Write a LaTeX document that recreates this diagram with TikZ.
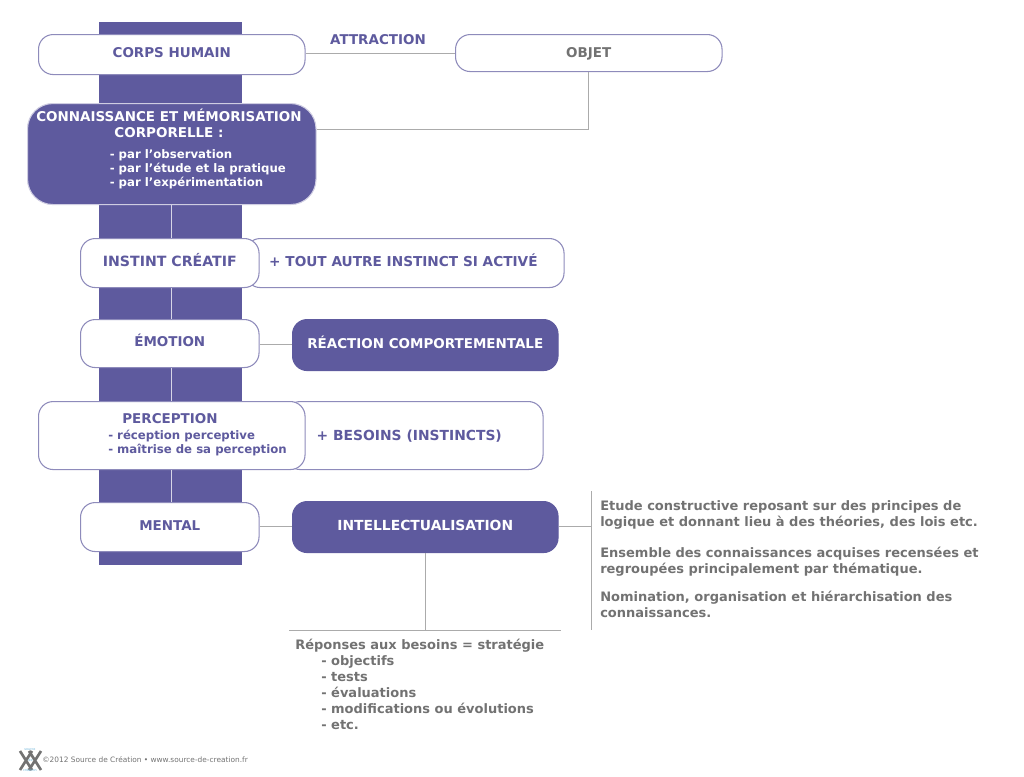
\documentclass[tikz,border=0pt]{standalone}
\usepackage{fontspec}
\setmainfont{DejaVu Sans}
\usetikzlibrary{calc}
\definecolor{violetfonce}{HTML}{5E5A9E}
\definecolor{violetclair}{HTML}{A9A6D0}
\definecolor{gristexte}{HTML}{727272}
\definecolor{grisligne}{HTML}{ABABAB}
\definecolor{bleulogo}{HTML}{6FB4D8}
\tikzset{
  grand/.style={font=\bfseries\fontsize{10.1}{12}\selectfont},
  large/.style={font=\bfseries\fontsize{10.4}{12}\selectfont},
  petit/.style={font=\bfseries\fontsize{8.8}{10.5}\selectfont,align=left,anchor=north west,inner sep=0pt},
  boite/.style={draw=violetfonce!70,line width=0.8pt,fill=white,rounded corners=11pt,text=violetfonce,grand,align=center,inner sep=0pt,anchor=north west,text height=7.3pt,text depth=2pt},
  pleine/.style={boite,draw=violetfonce,fill=violetfonce,text=white},
  ligne/.style={draw=grisligne,line width=0.6pt},
  blanche/.style={draw=white!75!violetfonce,line width=0.7pt},
  gris/.style={text=gristexte,font=\bfseries\fontsize{9.75}{12}\selectfont,align=left,anchor=north west,inner sep=0pt}
}
\newcommand{\boite}[6]{\node[#1,minimum width=#4*0.75pt,minimum height=#5*0.75pt] (#2) at #3 {#6};}
\begin{document}
\begin{tikzpicture}[x=0.75pt,y=-0.75pt]
\useasboundingbox (0,0) rectangle (1024,776);
% bande
\fill[violetfonce] (99,22) rectangle (242,565);
% boites arriere
\boite{boite,font=\bfseries\fontsize{10.25}{12}\selectfont}{autre}{(245,238)}{318.5}{49}{+ TOUT AUTRE INSTINCT SI ACTIVÉ\hspace*{2pt}}
\boite{boite,large,text depth=0.5pt}{besoins}{(285,401)}{257.5}{68}{+ BESOINS (INSTINCTS)\hspace*{7.5pt}}
% boites
\boite{boite,text depth=3pt}{corps}{(38,34)}{266.5}{40}{CORPS HUMAIN}
\boite{boite,text=gristexte,text depth=0pt}{objet}{(455,34)}{266.5}{37}{OBJET}
\boite{pleine,draw=white!70!violetfonce,rounded corners=19pt}{connaissance}{(27,103)}{288.5}{101}{}
\boite{boite,font=\bfseries\fontsize{10.6}{12}\selectfont}{instinct}{(80,238)}{178.5}{49}{INSTINT CRÉATIF}
\boite{boite,text depth=3pt}{emotion}{(80,319)}{178.5}{48}{ÉMOTION}
\boite{pleine}{reaction}{(292,319)}{265.5}{51}{RÉACTION COMPORTEMENTALE}
\boite{boite}{perception}{(38,401)}{266.5}{68}{}
\boite{boite}{mental}{(80,502)}{178.5}{49}{MENTAL}
\boite{pleine,large}{intellect}{(292,501)}{265.5}{51}{INTELLECTUALISATION}
% textes des boites
\node[text=white,grand,align=center] (titre) at (169,123.5) {CONNAISSANCE ET MÉMORISATION\\CORPORELLE :};
\node[text=white,petit] (liste) at (109.5,149.5) {- par l’observation\\- par l’étude et la pratique\\- par l’expérimentation};
\node[text=violetfonce,grand] (perceptitre) at (170,419) {PERCEPTION};
\node[text=violetfonce,petit] (perceliste) at (108,429.5) {- réception perceptive\\- maîtrise de sa perception};
\node[text=violetfonce,grand] (attraction) at (378,40) {ATTRACTION};
% liaisons
\draw[blanche] (connaissance.south -| 171,0) -- (instinct.north -| 171,0);
\draw[blanche] (instinct.south -| 171,0) -- (emotion.north -| 171,0);
\draw[blanche] (emotion.south -| 171,0) -- (perception.north -| 171,0);
\draw[blanche] (perception.south -| 171,0) -- (mental.north -| 171,0);
\draw[ligne] (corps.east |- 0,53) -- (objet.west |- 0,53);
\draw[ligne] (objet.south -| 588,0) -- (588,129) -- (connaissance.east |- 0,129);
\draw[ligne] (emotion.east |- 0,344) -- (reaction.west |- 0,344);
\draw[ligne] (mental.east |- 0,526) -- (intellect.west |- 0,526);
\coordinate (barre) at (591,526);
\coordinate (socle) at (425,630);
\draw[ligne] (intellect.east |- barre) -- (barre);
\draw[ligne] (591,491) -- (591,630);
\draw[ligne] (intellect.south -| socle) -- (socle);
\draw[ligne] (289,630) -- (561,630);
% textes gris
\node[gris] (etude) at (600,500) {Etude constructive reposant sur des principes de\\logique et donnant lieu à des théories, des lois etc.};
\node[gris] (ensemble) at (600,547) {Ensemble des connaissances acquises recensées et\\regroupées principalement par thématique.};
\node[gris] (nomination) at (600,591) {Nomination, organisation et hiérarchisation des\\connaissances.};
\node[gris] (reponses) at (295,639) {Réponses aux besoins = stratégie};
\node[gris] (objectifs) at (321,655) {- objectifs\\- tests\\- évaluations\\- modifications ou évolutions\\- etc.};
% logo
\draw[gristexte,line width=2pt] (20,751) -- (32,770) (32,751) -- (20,770) (29,751) -- (41,770) (41,751) -- (29,770);
\node[text=bleulogo,font=\fontsize{2.5}{3}\selectfont,inner sep=0pt] (logohaut) at (30,750) {source};
\node[text=bleulogo,font=\fontsize{2.5}{3}\selectfont,inner sep=0pt] (logomilieu) at (30.5,760) {de};
\node[text=bleulogo,font=\fontsize{2.5}{3}\selectfont,inner sep=0pt] (logobas) at (30,770) {création};
\node[text=gristexte,font=\fontsize{5.55}{7}\selectfont,anchor=west,inner sep=0pt] (credit) at (42,760) {©2012 Source de Création • www.source-de-creation.fr};
\end{tikzpicture}
\end{document}
